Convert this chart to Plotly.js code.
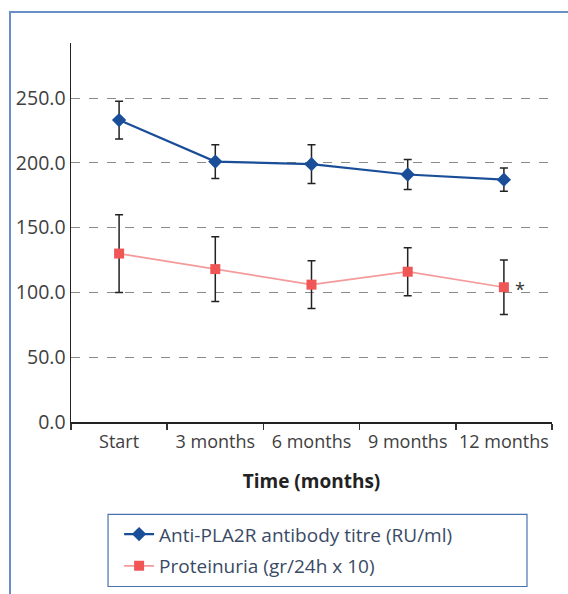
<!DOCTYPE html>
<html>
<head>
<meta charset="utf-8">
<script src="https://cdn.plot.ly/plotly-3.0.1.min.js"></script>
<style>
html,body{margin:0;padding:0;background:#fff;}
#wrap{position:absolute;left:0;top:0;width:568px;height:594px;}
#frame{position:absolute;left:9px;top:11px;width:570px;height:600px;border-left:2px solid #6a8fc6;border-top:2px solid #6a8fc6;box-sizing:border-box;pointer-events:none;}
#chart{position:absolute;left:0;top:0;width:568px;height:594px;}
</style>
</head>
<body>
<div id="wrap">
<div id="chart"></div>
<div id="frame"></div>
</div>
<script>
const categories = ["Start", "3 months", "6 months", "9 months", "12 months"];
const antibodyTitre = [233, 201, 199, 191, 187];
const antibodyErr = [14.5, 13, 15, 11.5, 9];
const proteinuria = [130, 118, 106, 116, 104];
const proteinuriaErr = [30, 25, 18.5, 18.5, 21];
const seriesNames = ["Anti-PLA2R antibody titre (RU/ml)", "Proteinuria (gr/24h x 10)"];
const yTicks = [0, 50, 100, 150, 200, 250];

const traces = [
  {
    x: categories, y: antibodyTitre, name: seriesNames[0], type: "scatter", mode: "lines+markers",
    legendgroup: "a",
    line: {color: "#1a4e98", width: 2.2},
    marker: {symbol: "diamond", size: 11, color: "#1a4e98"},
    error_y: {type: "data", array: antibodyErr, visible: true, color: "#222222", thickness: 1.5, width: 4}
  },
  {
    x: categories, y: proteinuria, name: seriesNames[1], type: "scatter", mode: "lines+markers",
    legendgroup: "b",
    line: {color: "#f59a9a", width: 1.7},
    marker: {symbol: "square", size: 10, color: "#f05656"},
    error_y: {type: "data", array: proteinuriaErr, visible: true, color: "#222222", thickness: 1.5, width: 4}
  }
];

const font = "'Open Sans', 'Noto Sans', sans-serif";
const layout = {
  width: 568, height: 594,
  margin: {l: 71, r: 16, t: 43, b: 172, autoexpand: false},
  paper_bgcolor: "#ffffff", plot_bgcolor: "#ffffff",
  font: {family: font, size: 16, color: "#404040"},
  showlegend: true,
  xaxis: {
    type: "category", range: [-0.5, 4.5],
    tickson: "boundaries", ticks: "outside", ticklen: 6, tickcolor: "#333333", tickwidth: 1.5,
    showline: true, linecolor: "#222222", linewidth: 1.5,
    showgrid: false, zeroline: false, automargin: false,
    tickangle: 0, ticklabelstandoff: 3,
    tickfont: {family: font, size: 18, color: "#404040"},
    title: {text: "<b>Time (months)</b>", font: {family: font, size: 19, color: "#222222"}, standoff: 22}
  },
  yaxis: {
    range: [0, 292.5], tickvals: yTicks, ticktext: yTicks.map(v => v.toFixed(1)),
    ticks: "", showline: true, linecolor: "#222222", linewidth: 1.5,
    showgrid: true, gridcolor: "#8a8a8a", gridwidth: 1, griddash: "dash",
    zeroline: false, automargin: false,
    tickfont: {family: font, size: 19.5, color: "#404040"}
  },
  legend: {
    x: 0.1, y: -0.246, xanchor: "left", yanchor: "top",
    bgcolor: "rgba(0,0,0,0)", borderwidth: 0,
    font: {family: font, size: 19, color: "#3a4a66"},
    traceorder: "grouped", tracegroupgap: 4
  },
  shapes: [
    {type: "rect", xref: "paper", yref: "paper", x0: 0.077, x1: 0.948, y0: -0.2437, y1: -0.434,
     line: {color: "#4a72b0", width: 1.2}, fillcolor: "rgba(0,0,0,0)"}
  ],
  annotations: [
    {x: categories[4], y: proteinuria[4], text: "*", showarrow: false, xshift: 16, yshift: -2,
     font: {family: font, size: 18, color: "#333333"}}
  ]
};

Plotly.newPlot("chart", traces, layout, {staticPlot: true, displayModeBar: false});
</script>
</body>
</html>
